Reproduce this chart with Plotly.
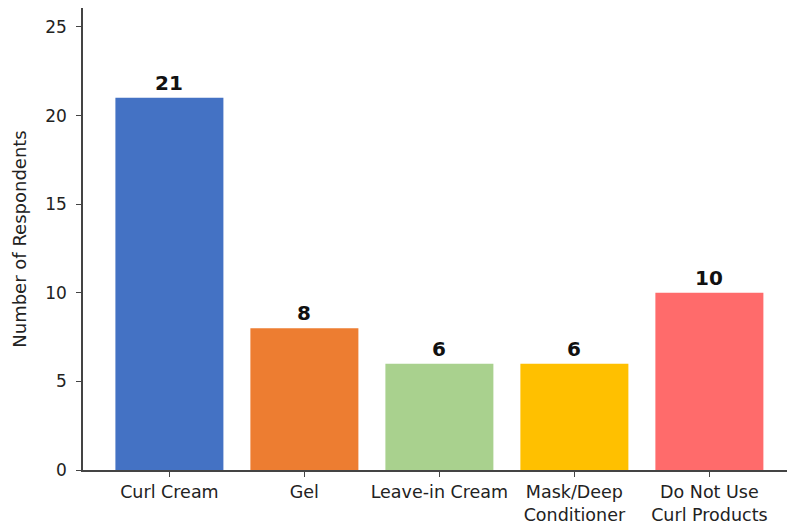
import plotly.graph_objects as go

categories = ["Curl Cream", "Gel", "Leave-in Cream", "Mask/Deep<br>Conditioner", "Do Not Use<br>Curl Products"]
values = [21, 8, 6, 6, 10]
colors = ["#4472C4", "#ED7D31", "#A9D18E", "#FFC000", "#FF6B6B"]
y_ticks = [0, 5, 10, 15, 20, 25]

xpos = list(range(len(categories)))

fig = go.Figure()
fig.add_trace(go.Bar(x=xpos, y=values, marker=dict(color=colors, line=dict(width=0)),
                     width=0.8, showlegend=False))

for xi, v in zip(xpos, values):
    fig.add_annotation(x=xi, y=v, text="<b>%d</b>" % v, showarrow=False,
                       yanchor="bottom", yshift=1,
                       font=dict(family="DejaVu Sans", size=20, color="#111111"))

fig.update_layout(
    width=787, height=524,
    margin=dict(l=83, r=0, t=8, b=54),
    plot_bgcolor="white", paper_bgcolor="white",
    font=dict(family="DejaVu Sans", size=17, color="#222222"),
)
fig.update_xaxes(
    range=[-0.64, 4.575], tickmode="array", tickvals=xpos, ticktext=categories,
    showline=True, linecolor="#444444", linewidth=1.5, ticks="outside", ticklen=5,
    tickcolor="#444444", showgrid=False, zeroline=False, ticklabelstandoff=0,
    automargin=False,
    tickfont=dict(family="DejaVu Sans", size=17.5, color="#222222"),
)
fig.update_yaxes(
    range=[0, 26.07], tickmode="array", tickvals=y_ticks,
    showline=True, linecolor="#444444", linewidth=1.5, ticks="outside", ticklen=5,
    tickcolor="#444444", showgrid=False, zeroline=False, ticklabelstandoff=6,
    automargin=False,
    title=dict(text="Number of Respondents", font=dict(family="DejaVu Sans", size=18, color="#222222"), standoff=14),
    tickfont=dict(family="DejaVu Sans", size=17, color="#222222"),
)

fig.write_html("out.html")
